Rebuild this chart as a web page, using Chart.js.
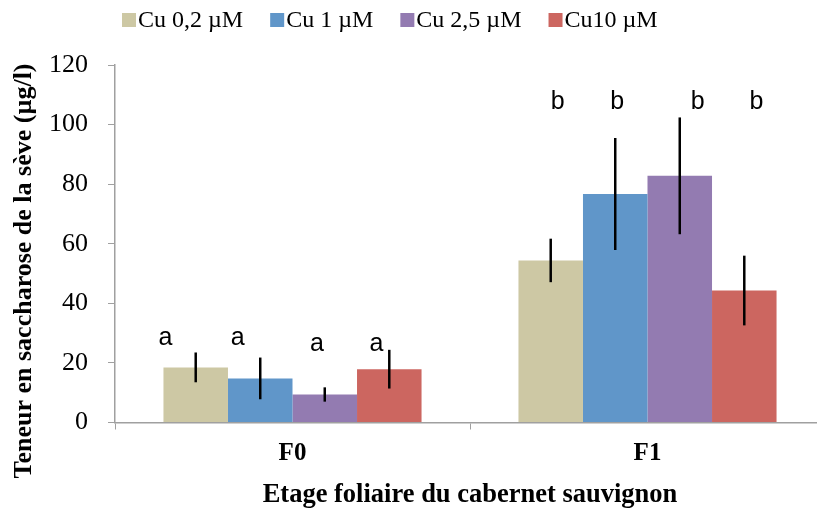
<!DOCTYPE html>
<html>
<head>
<meta charset="utf-8">
<script src="https://cdn.jsdelivr.net/npm/chart.js@4.4.1/dist/chart.umd.min.js"></script>
<style>
  html, body { margin: 0; padding: 0; background: #fff; overflow: hidden; }
</style>
</head>
<body>
<canvas id="chart" width="825" height="508"></canvas>
<script>
const stages = ["F0", "F1"];
const seriesNames = ["Cu 0,2 \u00b5M", "Cu 1 \u00b5M", "Cu 2,5 \u00b5M", "Cu10 \u00b5M"];
const cu02 = [18.5, 54.4];
const cu1 = [14.8, 76.7];
const cu25 = [9.4, 82.8];
const cu10 = [17.9, 44.3];
const cu02Err = [5, 7.3];
const cu1Err = [7, 18.8];
const cu25Err = [2.4, 19.6];
const cu10Err = [6.5, 11.7];
const letters = [["a", "b"], ["a", "b"], ["a", "b"], ["a", "b"]];
const letterLevel = [[28.4, 107.6], [28.4, 107.6], [26.4, 107.6], [26.4, 107.6]];
const yTicks = [0, 20, 40, 60, 80, 100, 120];

const colors = ["#CDC8A4", "#6096C9", "#937BB1", "#CC6660"];
const values = [cu02, cu1, cu25, cu10];
const errors = [cu02Err, cu1Err, cu25Err, cu10Err];
// letters were placed by hand in the original, shift them a bit (in bar widths)
const letterShift = [[-0.47, 0.11], [-0.35, 0.03], [-0.12, 0.28], [-0.2, 0.19]];

const serif = "'Liberation Serif', 'DejaVu Serif', serif";

const extras = {
    id: "extras",
    afterDatasetsDraw(chart) {
        const ctx = chart.ctx;
        const y = chart.scales.y;
        ctx.save();
        ctx.strokeStyle = "#000";
        ctx.lineWidth = 2.5;
        chart.data.datasets.forEach((ds, d) => {
            const meta = chart.getDatasetMeta(d);
            meta.data.forEach((bar, i) => {
                const v = values[d][i], e = errors[d][i];
                ctx.beginPath();
                ctx.moveTo(bar.x, y.getPixelForValue(v + e));
                ctx.lineTo(bar.x, y.getPixelForValue(v - e));
                ctx.stroke();

                ctx.fillStyle = "#000";
                ctx.font = "25px 'Liberation Sans', Arial, sans-serif";
                ctx.textAlign = "center";
                ctx.textBaseline = "middle";
                ctx.fillText(letters[d][i], bar.x + letterShift[d][i] * bar.width, y.getPixelForValue(letterLevel[d][i]));
            });
        });
        ctx.restore();
    },
    afterDraw(chart) {
        const ctx = chart.ctx;
        ctx.save();
        // legend
        ctx.font = "24px " + serif;
        ctx.textBaseline = "middle";
        ctx.textAlign = "left";
        let x = 122;
        seriesNames.forEach((name, i) => {
            ctx.fillStyle = colors[i];
            ctx.fillRect(x, 13, 14, 14);
            ctx.fillStyle = "#000";
            ctx.fillText(name, x + 16, 21);
            x += 16 + ctx.measureText(name).width + 27;
        });
        // y axis title
        ctx.translate(24, 271);
        ctx.rotate(-Math.PI / 2);
        ctx.font = "bold 26px " + serif;
        ctx.textAlign = "center";
        ctx.fillText("Teneur en saccharose de la s\u00e8ve (\u00b5g/l)", 0, 0);
        ctx.restore();
    }
};

new Chart(document.getElementById("chart"), {
    type: "bar",
    data: {
        labels: stages,
        datasets: seriesNames.map((name, i) => ({
            label: name,
            data: values[i],
            backgroundColor: colors[i],
            borderWidth: 0,
            barPercentage: 1,
            categoryPercentage: 0.727
        }))
    },
    options: {
        responsive: false,
        animation: false,
        layout: { padding: { top: 65, left: 29, right: 0, bottom: 0 } },
        plugins: {
            legend: { display: false },
            tooltip: { enabled: false }
        },
        scales: {
            x: {
                offset: true,
                grid: { display: true, drawOnChartArea: false, drawTicks: true, tickLength: 7, color: "#A0A0A0", offset: true },
                border: { color: "#A0A0A0", width: 1.5 },
                ticks: { color: "#000", font: { family: serif, size: 25, weight: "bold" }, padding: 9 },
                title: {
                    display: true,
                    text: "Etage foliaire du cabernet sauvignon",
                    color: "#000",
                    font: { family: serif, size: 26.5, weight: "bold", lineHeight: 1.0 },
                    padding: { top: 4, bottom: 0 }
                }
            },
            y: {
                min: 0,
                max: 120,
                afterBuildTicks: axis => { axis.ticks = yTicks.map(v => ({ value: v })); },
                grid: { display: true, drawOnChartArea: false, drawTicks: true, tickLength: 7, color: "#A0A0A0" },
                border: { color: "#A0A0A0", width: 1.5 },
                ticks: { color: "#000", font: { family: serif, size: 26 }, padding: 20 }
            }
        }
    },
    plugins: [extras]
});
</script>
</body>
</html>
